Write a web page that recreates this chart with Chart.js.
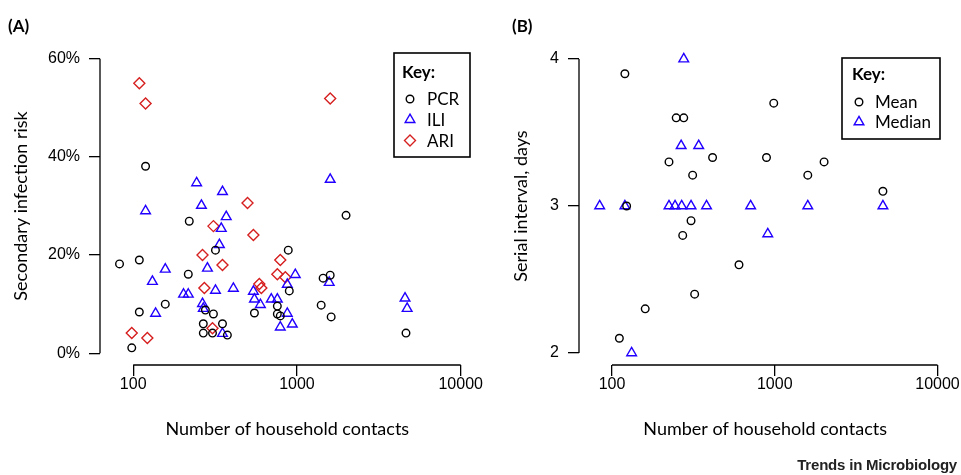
<!DOCTYPE html>
<html><head><meta charset="utf-8">
<script src="https://cdn.jsdelivr.net/npm/chart.js@4.4.1/dist/chart.umd.min.js"></script>
<style>
html,body{margin:0;padding:0;background:#fff;width:961px;height:475px;overflow:hidden;}
#wrapA{position:absolute;left:0;top:0;width:490px;height:475px;}
#wrapB{position:absolute;left:480px;top:0;width:481px;height:475px;}
.lab{position:absolute;font-family:'Lato',sans-serif;font-weight:bold;font-size:17px;color:#000;}
#brand{position:absolute;right:4px;top:456px;font-family:'Liberation Sans',Arial,sans-serif;font-weight:bold;font-size:15px;color:#222;letter-spacing:-0.2px;white-space:nowrap;}
</style></head><body>
<div id="wrapA"><canvas id="cA"></canvas></div>
<div id="wrapB"><canvas id="cB"></canvas></div>
<div class="lab" style="left:8px;top:15px;">(A)</div>
<div class="lab" style="left:512px;top:15px;">(B)</div>
<div id="brand">Trends in Microbiology</div>
<script>
// ---- data ----
const pcrContacts = [82.5,109,119,220,318,217,157,109,309,268,351,268,305,376,98,276,1995,885,898,550,759,759,791,1445,1596,1406,1618,4634];
const pcrRisk     = [18.2,19.0,38.1,26.9,21.0,16.1,10.0,8.4,8.0,6.0,6.0,4.1,4.1,3.7,1.1,8.8,28.1,21.0,12.7,8.2,9.6,8.0,7.6,15.3,15.9,9.8,7.4,4.1];
const iliContacts = [119,244,351,261,370,345,336,284,157,131,318,409,203,217,137,265,268,351,542,550,598,697,759,873,937,791,977,873,1574,1596,4571,4710];
const iliRisk     = [29.0,34.7,32.9,30.1,27.8,25.4,22.1,17.3,17.1,14.6,12.8,13.2,12.0,12.0,8.1,10.1,9.1,4.0,12.6,11.0,9.9,11.0,11.0,8.1,5.9,5.3,16.0,14.0,14.4,35.4,11.2,9.1];
const ariContacts = [109,119,1596,499,309,542,265,351,272,589,606,791,759,849,305,98,122];
const ariRisk     = [55.0,50.9,51.9,30.6,25.9,24.1,20.0,18.0,13.3,14.1,13.3,19.0,16.1,15.5,5.1,4.1,3.1];
const meanContacts = [120,986,248,276,224,415,890,313,123,2010,1596,4620,306,272,603,322,160,111];
const meanSerial   = [3.90,3.70,3.60,3.60,3.30,3.33,3.33,3.21,3.00,3.30,3.21,3.10,2.90,2.80,2.60,2.40,2.30,2.10];
const medianContacts = [276,266,341,84,120,224,244,268,306,381,711,1596,4620,906,132];
const medianSerial   = [4.00,3.41,3.41,3.00,3.00,3.00,3.00,3.00,3.00,3.00,3.00,3.00,3.00,2.81,2.00];
const contactTicks = [100,1000,10000];
const riskTicks = [0,20,40,60];
const serialTicks = [2,3,4];

const pts = (xs, ys) => xs.map((x,i)=>({x:x, y:ys[i]}));

const BLACK = '#000000', BLUE = '#2200ff', RED = '#d62020';
const TICKFONT = {family:"'Liberation Sans', Arial, sans-serif", size:16, lineHeight:1};
const TITLEFONT = {family:"Lato, sans-serif", size:18, lineHeight:1.2};

function ds(label, data, style, color, radius){
  return {label, data, pointStyle:style, pointRadius:radius, pointHoverRadius:radius,
    backgroundColor:'rgba(0,0,0,0)', borderColor:color, pointBorderWidth:1.4, borderWidth:1.4, showLine:false};
}

const axisLines = {
  id:'axisLines',
  afterDraw(chart, args, o){
    const ctx = chart.ctx, x = chart.scales.x, y = chart.scales.y, ca = chart.chartArea;
    ctx.save();
    ctx.strokeStyle = '#000'; ctx.lineWidth = 1.3; ctx.lineCap='butt';
    ctx.beginPath();
    ctx.moveTo(ca.left, y.getPixelForValue(o.yTicks[0]));
    ctx.lineTo(ca.left, y.getPixelForValue(o.yTicks[o.yTicks.length-1]));
    ctx.moveTo(x.getPixelForValue(o.xTicks[0]), ca.bottom);
    ctx.lineTo(x.getPixelForValue(o.xTicks[o.xTicks.length-1]), ca.bottom);
    ctx.stroke();
    // key box
    const k = o.key;
    ctx.lineWidth = 1.6;
    ctx.strokeRect(k.left, k.top, k.width, k.height);
    ctx.fillStyle = '#000';
    ctx.textBaseline = 'middle'; ctx.textAlign = 'left';
    ctx.font = "bold 17px Lato, sans-serif";
    ctx.fillText('Key:', k.left + k.titleDx, k.top + k.titleDy);
    chart.data.datasets.forEach((d, i) => {
      const cy = k.top + k.firstDy + i * k.rowH;
      ctx.strokeStyle = d.borderColor; ctx.lineWidth = 1.4;
      ctx.fillStyle = 'rgba(0,0,0,0)';
      Chart.helpers.drawPoint(ctx, {pointStyle:d.pointStyle, radius:d.pointRadius, borderWidth:1.4, rotation:0}, k.left + k.symDx, cy);
      ctx.fillStyle = '#000';
      ctx.font = "17px Lato, sans-serif";
      ctx.fillText(d.label, k.left + k.textDx, cy + 1);
    });
    ctx.restore();
  }
};

function makeOpts(cfg){
  return {
    responsive:true, maintainAspectRatio:false, animation:false,
    layout:{padding:{left:0, top:cfg.padTop, right:cfg.padRight, bottom:0}},
    plugins:{legend:{display:false}, tooltip:{enabled:false}, axisLines:cfg.lines},
    scales:{
      x:{type:'logarithmic', min:62.7, max:12160,
        afterBuildTicks: s => { s.ticks = cfg.xTicks.map(v=>({value:v})); },
        afterFit: s => { s.height = 110; },
        ticks:{color:'#000', font:TICKFONT, padding:1, maxRotation:0, autoSkip:false, callback:v=>String(v)},
        grid:{display:true, drawOnChartArea:false, drawTicks:true, tickLength:11, color:'#000', lineWidth:1.3},
        border:{display:false},
        title:{display:true, text:'Number of household contacts', color:'#000', font:TITLEFONT, padding:{top:0, bottom:35}}
      },
      y:{type:'linear', min:cfg.yMin, max:cfg.yMax,
        afterBuildTicks: s => { s.ticks = cfg.yTicks.map(v=>({value:v})); },
        afterFit: s => { s.width = cfg.yWidth; },
        ticks:{color:'#000', font:TICKFONT, padding:9, autoSkip:false, callback:cfg.yFmt},
        grid:{display:true, drawOnChartArea:false, drawTicks:true, tickLength:11, color:'#000', lineWidth:1.3},
        border:{display:false},
        title:{display:true, text:cfg.yTitle, color:'#000', font:TITLEFONT, padding:{top:cfg.yTitlePad, bottom:0}}
      }
    }
  };
}

new Chart(document.getElementById('cA'), {
  type:'scatter',
  data:{datasets:[
    ds('PCR', pts(pcrContacts, pcrRisk), 'circle', BLACK, 3.8),
    ds('ILI', pts(iliContacts, iliRisk), 'triangle', BLUE, 5.6),
    ds('ARI', pts(ariContacts, ariRisk), 'rectRot', RED, 5.5)
  ]},
  options: makeOpts({padTop:47, padRight:15.4, yWidth:100, yMin:-2.4, yMax:62.4,
    xTicks:contactTicks, yTicks:riskTicks, yFmt:v=>v+'%', yTitle:'Secondary infection risk', yTitlePad:10.5,
    lines:{xTicks:contactTicks, yTicks:riskTicks,
      key:{left:394, top:53, width:76, height:104, titleDx:8, titleDy:20, firstDy:46, rowH:20.7, symDx:16, textDx:33}}}),
  plugins:[axisLines]
});

new Chart(document.getElementById('cB'), {
  type:'scatter',
  data:{datasets:[
    ds('Mean', pts(meanContacts, meanSerial), 'circle', BLACK, 3.8),
    ds('Median', pts(medianContacts, medianSerial), 'triangle', BLUE, 5.6)
  ]},
  options: makeOpts({padTop:47, padRight:7, yWidth:99, yMin:1.918, yMax:4.082,
    xTicks:contactTicks, yTicks:serialTicks, yFmt:v=>String(v), yTitle:'Serial interval, days', yTitlePad:30.5,
    lines:{xTicks:contactTicks, yTicks:serialTicks,
      key:{left:362, top:58, width:98, height:81, titleDx:10, titleDy:17, firstDy:44, rowH:20, symDx:17, textDx:33}}}),
  plugins:[axisLines]
});
</script>
</body></html>
